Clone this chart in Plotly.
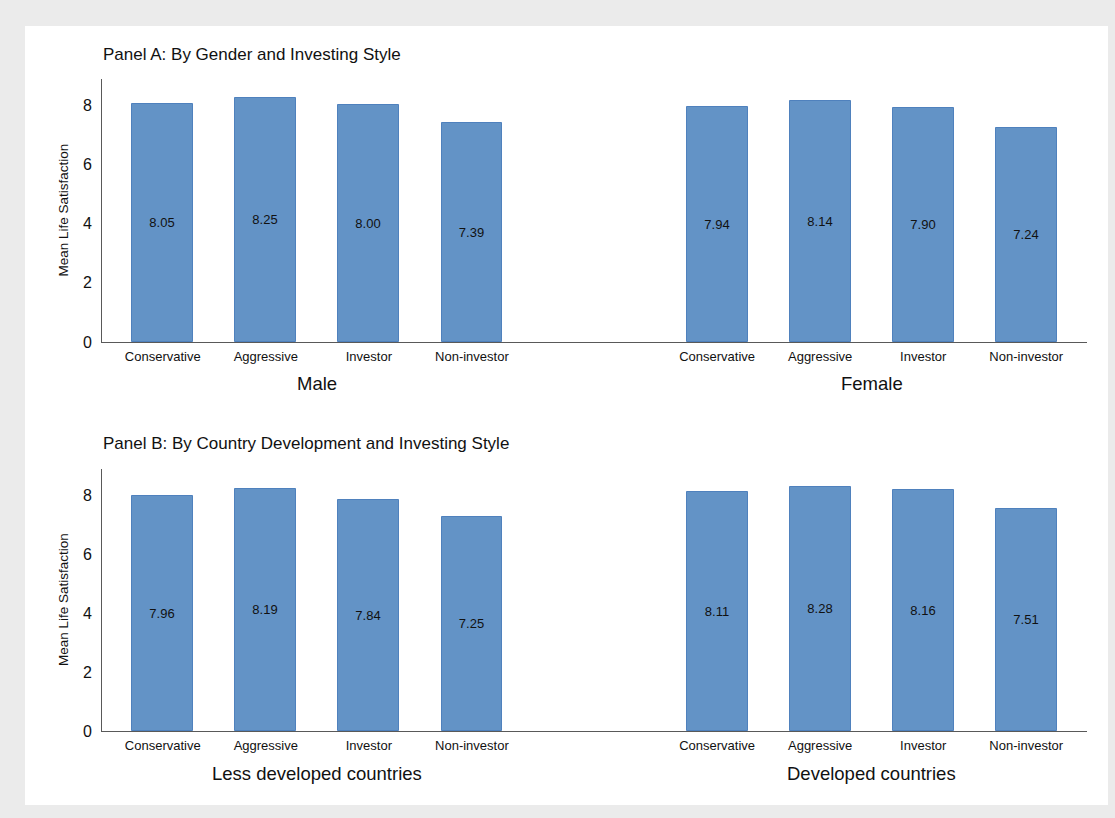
import plotly.graph_objects as go

styles = ["Conservative", "Aggressive", "Investor", "Non-investor"]
male = [8.05, 8.25, 8.00, 7.39]
female = [7.94, 8.14, 7.90, 7.24]
less_dev = [7.96, 8.19, 7.84, 7.25]
developed = [8.11, 8.28, 8.16, 7.51]
panel_titles = ["Panel A: By Gender and Investing Style",
                "Panel B: By Country Development and Investing Style"]
group_labels_a = ["Male", "Female"]
group_labels_b = ["Less developed countries", "Developed countries"]

W, H = 1115, 818
gap = 5.38
pos1 = [0, 1, 2, 3]
pos2 = [p + gap for p in pos1]
xr = [-0.59, 8.97]

FILL = "#6393C6"
EDGE = "#4F81BD"
AXIS = "#595959"
FONT = "Liberation Sans, Arial, sans-serif"

def px(x):
    return x / W

def py(y):
    return 1 - y / H

fig = go.Figure()

panels = [
    dict(vals=(male, female), groups=group_labels_a, top=79, bottom=342, title_y=55, group_y=383, xa="x", ya="y"),
    dict(vals=(less_dev, developed), groups=group_labels_b, top=469, bottom=731, title_y=444, group_y=773, xa="x2", ya="y2"),
]

for i, p in enumerate(panels):
    xs = pos1 + pos2
    ys = list(p["vals"][0]) + list(p["vals"][1])
    fig.add_trace(go.Bar(
        x=xs, y=ys, width=0.59,
        marker=dict(color=FILL, line=dict(color=EDGE, width=1)),
        texttemplate="%{y:.2f}", textposition="inside", insidetextanchor="middle",
        textfont=dict(color="#111111", size=13, family=FONT),
        textangle=0,
        xaxis=p["xa"], yaxis=p["ya"], showlegend=False, hoverinfo="skip",
    ))

x_dom = [px(102), px(1087)]
common_x = dict(range=xr, tickvals=pos1 + pos2, ticktext=styles + styles,
                showline=True, linecolor=AXIS, linewidth=1, showgrid=False, zeroline=False,
                ticks="outside", ticklen=2, tickcolor="rgba(0,0,0,0)", automargin=False,
                tickfont=dict(size=13, color="#111111", family=FONT), domain=x_dom, fixedrange=True)
common_y = dict(range=[0, 8.88], tickvals=[0, 2, 4, 6, 8], showline=True, linecolor=AXIS, linewidth=1,
                showgrid=False, zeroline=False, ticks="outside", ticklen=6, tickcolor="rgba(0,0,0,0)",
                automargin=False,
                tickfont=dict(size=16, color="#111111", family=FONT), fixedrange=True)

fig.update_layout(
    width=W, height=H,
    margin=dict(l=0, r=0, t=0, b=0, pad=0, autoexpand=False),
    paper_bgcolor="#EBEBEB", plot_bgcolor="rgba(0,0,0,0)",
    font=dict(family=FONT, color="#111111"),
    xaxis=dict(**common_x, anchor="y"),
    yaxis=dict(**common_y, domain=[py(342), py(79)], anchor="x"),
    xaxis2=dict(**common_x, anchor="y2"),
    yaxis2=dict(**common_y, domain=[py(731), py(469)], anchor="x2"),
    bargap=0,
)

fig.add_shape(type="rect", xref="paper", yref="paper",
              x0=px(25), x1=px(1108), y0=py(805), y1=py(26),
              fillcolor="white", line=dict(width=0), layer="below")

for i, p in enumerate(panels):
    fig.add_annotation(xref="paper", yref="paper", x=px(101), y=py(p["title_y"]),
                       text=panel_titles[i], showarrow=False, xanchor="left", yanchor="middle",
                       font=dict(size=17, color="#111111", family=FONT))
    fig.add_annotation(xref="paper", yref="paper", x=px(63), y=py((p["top"] + p["bottom"]) / 2),
                       text="Mean Life Satisfaction", showarrow=False, textangle=-90,
                       xanchor="center", yanchor="middle",
                       font=dict(size=13.5, color="#111111", family=FONT))
    centers = [sum(pos1) / 4, sum(pos2) / 4]
    for c, lab in zip(centers, p["groups"]):
        fig.add_annotation(xref=p["xa"], yref="paper", x=c, y=py(p["group_y"]),
                           text=lab, showarrow=False, xanchor="center", yanchor="middle",
                           font=dict(size=18.5, color="#111111", family=FONT))

fig.write_html("out.html")
